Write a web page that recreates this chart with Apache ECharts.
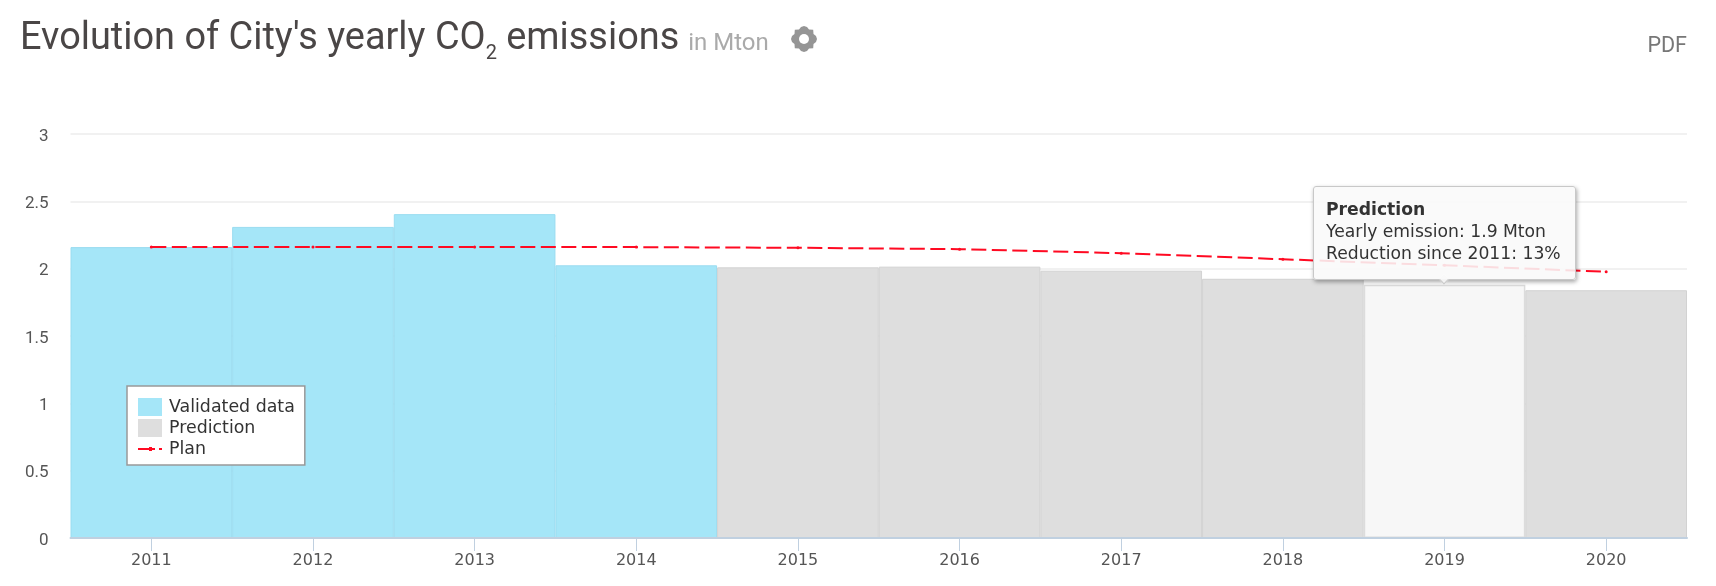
<!DOCTYPE html>
<html><head><meta charset="utf-8">
<style>html,body{margin:0;padding:0;background:#fff}#c{width:1716px;height:586px}</style>
<script src="https://cdn.jsdelivr.net/npm/echarts@6/dist/echarts.min.js"></script>
</head><body><div id="c"></div>
<script>
const years = ['2011','2012','2013','2014','2015','2016','2017','2018','2019','2020'];
const validated = [2.16,2.31,2.405,2.025,null,null,null,null,null,null];
const prediction = [null,null,null,null,2.01,2.015,1.985,1.925,1.88,1.84];
const plan = [2.16,2.16,2.16,2.16,2.155,2.145,2.115,2.07,2.025,1.977];
const highlightIndex = 8;
const tipLines = ['Prediction','Yearly emission: 1.9 Mton','Reduction since 2011: 13%'];
const sansFont = '"DejaVu Sans", sans-serif';
const gearOutline = [[0,-13],[3,-12],[5,-9.5],[9.2,-9.2],[9.5,-5],[12,-3],[13,0],[12,3],[9.5,5],[9.2,9.2],[5,9.5],[3,12],[0,13],[-3,12],[-5,9.5],[-9.2,9.2],[-9.5,5],[-12,3],[-13,0],[-12,-3],[-9.5,-5],[-9.2,-9.2],[-5,-9.5],[-3,-12]];
const planLegendIcon = 'path://M0 0h.01v.01h-.01z M23.99 17.99h.01v.01h-.01z M0 8h17v2H0z M11 7h3v4h-3z M21 8h3v2h-3z';

const chart = echarts.init(document.getElementById('c'), null, {renderer:'canvas'});
chart.setOption({
  animation:false,
  backgroundColor:'#fff',
  title:{
    left:15, top:11,
    text:"{m|Evolution of City's yearly CO}{s|2}{m| emissions}{u| in Mton}",
    textStyle:{rich:{
      m:{fontFamily:'Roboto',fontSize:37.9,color:'#4a4646',fontWeight:400,lineHeight:48},
      s:{fontFamily:'Roboto',fontSize:20,color:'#4a4646',fontWeight:400,verticalAlign:'bottom',padding:[24,0,0,0],lineHeight:48},
      u:{fontFamily:'Roboto',fontSize:24,color:'#aaaaaa',fontWeight:400,padding:[8,0,0,3],lineHeight:48}
    }}
  },
  graphic:[
    {type:'group',x:804,y:39,silent:true,children:[
      {type:'polygon',shape:{points:gearOutline},style:{fill:'#959595'}},
      {type:'circle',shape:{cx:0,cy:0,r:5},style:{fill:'#fff'}}
    ]},
    {type:'text',right:29,top:36,style:{text:'PDF',font:'400 21.5px Roboto',fill:'#777'},silent:true}
  ],
  grid:{left:70.5,right:29,top:134,bottom:48,containLabel:false},
  legend:{
    orient:'vertical',left:127,top:386,
    padding:[12,10,7,11],itemGap:3,itemWidth:24,itemHeight:18,
    backgroundColor:'#fff',borderColor:'#999',borderWidth:1.5,
    itemStyle:{borderWidth:0},
    textStyle:{fontFamily:sansFont,fontSize:17.4,color:'#333',padding:[0,0,0,2]},
    data:[{name:'Validated data',icon:'rect'},{name:'Prediction',icon:'rect'},{name:'Plan',icon:planLegendIcon}],
    selectedMode:false
  },
  tooltip:{
    trigger:'item',
    position:'top',
    confine:false,
    borderColor:'#c8c8c8',borderWidth:1,borderRadius:3,
    backgroundColor:'rgba(249,249,249,0.88)',
    padding:[11,14,15,12],
    textStyle:{fontFamily:sansFont,fontSize:17.2,color:'#333',lineHeight:22},
    extraCssText:'box-shadow:1px 2px 4px rgba(0,0,0,.35);line-height:22px;margin-top:5px;',
    formatter:()=>`<b>${tipLines[0]}</b><br>${tipLines[1]}<br>${tipLines[2]}`
  },
  xAxis:{
    type:'category',data:years,z:10,
    axisLine:{lineStyle:{color:'#c0d0e0',width:2}},
    axisTick:{show:true,alignWithLabel:true,length:13,lineStyle:{color:'#c0d0e0',width:1}},
    axisLabel:{fontFamily:sansFont,fontSize:16,color:'#555',margin:15}
  },
  yAxis:{
    type:'value',min:0,max:3,interval:0.5,
    splitLine:{lineStyle:{color:'#ececec',width:1.5}},
    axisLine:{show:false},axisTick:{show:false},
    axisLabel:{fontFamily:'Roboto',fontSize:17,color:'#555',margin:22,lineHeight:23,
      verticalAlign:'top',verticalAlignMaxLabel:'top',verticalAlignMinLabel:'top',padding:[-9,0,0,0]}
  },
  series:[
    {name:'Validated data',type:'bar',stack:'e',barWidth:'100%',data:validated,
      itemStyle:{color:'#a5e6f8',borderColor:'#9adcf0',borderWidth:1}},
    {name:'Prediction',type:'bar',stack:'e',barWidth:'100%',
      data:prediction.map((v,i)=>i===highlightIndex
        ?{value:v,itemStyle:{color:'#f7f7f7',borderColor:'#dcdcdc',borderWidth:1.5}}:v),
      itemStyle:{color:'#dedede',borderColor:'#d2d2d2',borderWidth:1}},
    {name:'Plan',type:'line',data:plan,z:5,symbol:'circle',symbolSize:3,showSymbol:true,
      lineStyle:{color:'#ff0a22',width:2,type:[15,5.5]},
      itemStyle:{color:'#ff0a22'}}
  ]
});
chart.dispatchAction({type:'showTip',seriesIndex:1,dataIndex:highlightIndex});
</script></body></html>
